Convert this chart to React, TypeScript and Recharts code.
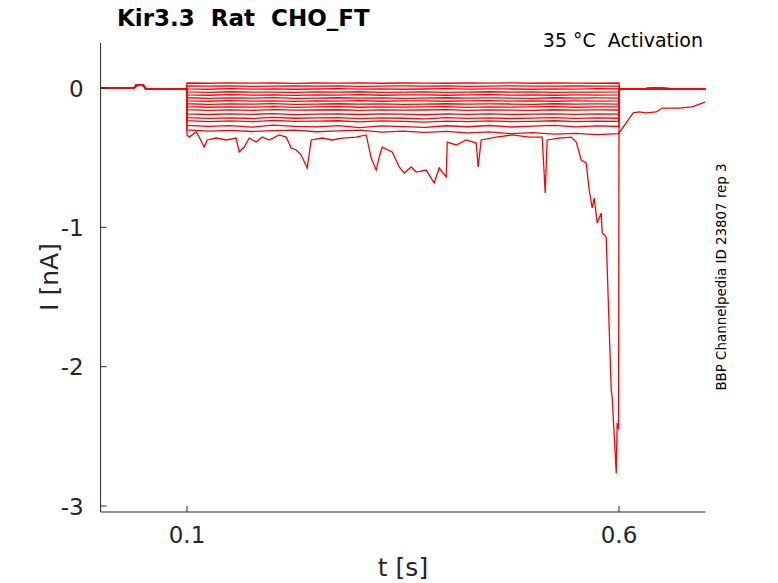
import { Line, LineChart, XAxis, YAxis } from "recharts";

const AXIS = "#262626";
const TRACE = "#ff0000";
const FONT = "DejaVu Sans";

// holding segment before the step, shared by all sweeps
const preTimes = [0, 0.02, 0.039, 0.041, 0.045, 0.049, 0.0505, 0.052, 0.075, 0.0995];
const preCurrent = [0, -0.002, -0.001, 0.018, 0.02, 0.019, 0.012, -0.006, -0.007, -0.004];

// step segment
const stepTimes = [
  0.1, 0.125, 0.15, 0.175, 0.2, 0.225, 0.25, 0.275, 0.3, 0.325, 0.35,
  0.375, 0.4, 0.425, 0.45, 0.475, 0.5, 0.525, 0.55, 0.575, 0.6,
];
const sweep01 = [0.036, 0.034, 0.037, 0.035, 0.036, 0.033, 0.036, 0.035, 0.037, 0.034, 0.036, 0.035, 0.034, 0.036, 0.035, 0.037, 0.034, 0.036, 0.035, 0.034, 0.036];
const sweep02 = [0.015, 0.013, 0.016, 0.012, 0.014, 0.016, 0.013, 0.015, 0.012, 0.014, 0.015, 0.013, 0.016, 0.012, 0.014, 0.015, 0.013, 0.014, 0.016, 0.013, 0.014];
const sweep03 = [-0.006, -0.009, -0.005, -0.008, -0.006, -0.009, -0.007, -0.005, -0.008, -0.006, -0.009, -0.007, -0.005, -0.008, -0.006, -0.007, -0.009, -0.006, -0.008, -0.005, -0.007];
const sweep04 = [-0.028, -0.031, -0.027, -0.03, -0.029, -0.032, -0.028, -0.03, -0.027, -0.031, -0.029, -0.028, -0.031, -0.029, -0.027, -0.03, -0.028, -0.031, -0.029, -0.03, -0.028];
const sweep05 = [-0.049, -0.052, -0.048, -0.051, -0.05, -0.053, -0.049, -0.051, -0.048, -0.052, -0.05, -0.049, -0.052, -0.05, -0.048, -0.051, -0.049, -0.052, -0.05, -0.051, -0.049];
const sweep06 = [-0.07, -0.074, -0.071, -0.073, -0.069, -0.074, -0.072, -0.07, -0.073, -0.071, -0.074, -0.072, -0.07, -0.073, -0.071, -0.072, -0.074, -0.07, -0.073, -0.071, -0.072];
const sweep07 = [-0.092, -0.095, -0.091, -0.094, -0.093, -0.096, -0.092, -0.094, -0.091, -0.095, -0.093, -0.092, -0.095, -0.093, -0.091, -0.094, -0.092, -0.095, -0.093, -0.094, -0.092];
const sweep08 = [-0.113, -0.117, -0.114, -0.116, -0.112, -0.117, -0.115, -0.113, -0.116, -0.114, -0.117, -0.115, -0.113, -0.116, -0.114, -0.115, -0.117, -0.113, -0.116, -0.114, -0.115];
const sweep09 = [-0.134, -0.138, -0.135, -0.137, -0.133, -0.139, -0.136, -0.134, -0.138, -0.135, -0.137, -0.136, -0.134, -0.139, -0.135, -0.137, -0.136, -0.134, -0.138, -0.135, -0.136];
const sweep10 = [-0.156, -0.16, -0.157, -0.161, -0.155, -0.159, -0.158, -0.156, -0.161, -0.157, -0.159, -0.158, -0.155, -0.16, -0.157, -0.159, -0.161, -0.156, -0.159, -0.157, -0.158];
const sweep11 = [-0.185, -0.19, -0.186, -0.189, -0.184, -0.191, -0.187, -0.185, -0.19, -0.186, -0.188, -0.192, -0.186, -0.189, -0.185, -0.19, -0.187, -0.185, -0.189, -0.186, -0.188];
const sweep12 = [-0.212, -0.218, -0.214, -0.219, -0.211, -0.217, -0.215, -0.212, -0.22, -0.214, -0.217, -0.221, -0.213, -0.218, -0.214, -0.219, -0.216, -0.212, -0.218, -0.215, -0.217];
const sweep13 = [-0.234, -0.241, -0.236, -0.242, -0.233, -0.24, -0.238, -0.235, -0.243, -0.236, -0.24, -0.245, -0.237, -0.241, -0.236, -0.242, -0.239, -0.235, -0.241, -0.238, -0.24];
const sweep14 = [-0.268, -0.276, -0.27, -0.281, -0.266, -0.275, -0.279, -0.27, -0.284, -0.272, -0.277, -0.283, -0.271, -0.278, -0.269, -0.28, -0.274, -0.268, -0.279, -0.272, -0.276];
const sweep15 = [-0.3, -0.31, -0.304, -0.312, -0.306, -0.302, -0.314, -0.308, -0.303, -0.316, -0.309, -0.318, -0.311, -0.322, -0.315, -0.328, -0.32, -0.331, -0.325, -0.334, -0.328];
const sweeps = [sweep01, sweep02, sweep03, sweep04, sweep05, sweep06, sweep07, sweep08, sweep09, sweep10, sweep11, sweep12, sweep13, sweep14, sweep15];

// tail after the step
const postTimes = [0.6005, 0.62, 0.64, 0.66, 0.68, 0.7];
const postCurrent = [-0.004, -0.006, -0.003, -0.005, -0.004, -0.006];

// the last, noisy sweep (step + tail)
const bigTimes = [
  0.1, 0.1026, 0.1106, 0.1141, 0.1199, 0.1234, 0.1338, 0.1454, 0.1569, 0.1604,
  0.1662, 0.172, 0.1801, 0.187, 0.1951, 0.2067, 0.2148, 0.2206, 0.2264, 0.2322,
  0.2391, 0.2438, 0.2565, 0.2681, 0.2796, 0.2958, 0.3074, 0.3132, 0.319, 0.3225,
  0.3259, 0.3375, 0.3456, 0.3514, 0.3595, 0.3653, 0.3769, 0.3861, 0.3919, 0.4,
  0.4012, 0.4116, 0.4231, 0.4347, 0.437, 0.4405, 0.4579, 0.4764, 0.4961, 0.5111,
  0.5146, 0.5169, 0.5308, 0.5447, 0.5505, 0.5563, 0.562, 0.5655, 0.569, 0.5713,
  0.5748, 0.5794, 0.5806, 0.5852, 0.5887, 0.591, 0.5921, 0.5968, 0.5979, 0.5995,
  0.6, 0.6083, 0.6164, 0.6234, 0.6315, 0.6431, 0.65, 0.6697, 0.6847, 0.6963, 0.7,
];
const bigCurrent = [
  -0.337, -0.352, -0.316, -0.352, -0.424, -0.373, -0.359, -0.373, -0.359, -0.459,
  -0.424, -0.359, -0.388, -0.352, -0.373, -0.337, -0.352, -0.431, -0.445, -0.481,
  -0.574, -0.373, -0.359, -0.373, -0.359, -0.352, -0.337, -0.503, -0.589, -0.495,
  -0.424, -0.459, -0.567, -0.61, -0.567, -0.603, -0.589, -0.682, -0.574, -0.639,
  -0.388, -0.409, -0.373, -0.395, -0.567, -0.373, -0.352, -0.337, -0.352, -0.352,
  -0.754, -0.373, -0.359, -0.352, -0.388, -0.517, -0.538, -0.732, -0.861, -0.79,
  -0.969, -0.897, -1.041, -1.07, -1.737, -2.168, -2.218, -2.764, -2.405, -2.45,
  -0.323, -0.251, -0.179, -0.172, -0.179, -0.172, -0.144, -0.144, -0.136, -0.108, -0.1,
];

const xTicks = [0.1, 0.6];
const yTicks = [-3, -2, -1, 0];

const toPoints = (ts: number[], vs: number[]) => ts.map((t, i) => ({ t, v: vs[i] }));
const prePoints = toPoints(preTimes, preCurrent);
const postPoints = toPoints(postTimes, postCurrent);
const sweepData = sweeps.map((s) => [...prePoints, ...toPoints(stepTimes, s), ...postPoints]);
const bigData = [...prePoints, ...toPoints(bigTimes, bigCurrent)];

const XTick = ({ x, y, payload }: any) => (
  <g>
    <line x1={x} y1={y} x2={x} y2={y - 6} stroke={AXIS} />
    <text x={x} y={y + 31} textAnchor="middle" fontSize={23} fontFamily={FONT} fill={AXIS}>
      {payload.value}
    </text>
  </g>
);

const YTick = ({ x, y, payload }: any) => (
  <g>
    <line x1={x} y1={y} x2={x + 6} y2={y} stroke={AXIS} />
    <text x={x - 17} y={y + 8.5} textAnchor="end" fontSize={23} fontFamily={FONT} fill={AXIS}>
      {payload.value}
    </text>
  </g>
);

export default function App() {
  return (
    <div style={{ position: "absolute", left: 0, top: 0, width: 778, height: 583, background: "#fff" }}>
      <LineChart width={778} height={583} margin={{ top: 43, right: 72.6, bottom: 31, left: 40.6 }}>
        <XAxis
          dataKey="t"
          type="number"
          domain={[0, 0.7]}
          ticks={xTicks}
          allowDataOverflow
          height={40}
          tickSize={0}
          tickMargin={0}
          tickLine={false}
          axisLine={{ stroke: AXIS }}
          tick={<XTick />}
        />
        <YAxis
          dataKey="v"
          type="number"
          domain={[-3.043, 0.323]}
          ticks={yTicks}
          allowDataOverflow
          width={60}
          tickSize={0}
          tickMargin={0}
          tickLine={false}
          axisLine={{ stroke: AXIS }}
          tick={<YTick />}
        />
        {sweepData.map((d, i) => (
          <Line
            key={i}
            data={d}
            dataKey="v"
            type="linear"
            stroke={TRACE}
            strokeWidth={1.3}
            dot={false}
            activeDot={false}
            isAnimationActive={false}
          />
        ))}
        <Line
          data={bigData}
          dataKey="v"
          type="linear"
          stroke={TRACE}
          strokeWidth={1.3}
          dot={false}
          activeDot={false}
          isAnimationActive={false}
        />
      </LineChart>
      <svg
        width={778}
        height={583}
        style={{ position: "absolute", left: 0, top: 0, pointerEvents: "none" }}
        fontFamily={FONT}
      >
        <text x={117} y={26} fontSize={23} fontWeight="bold" fill="#000" style={{ whiteSpace: "pre" }}>
          Kir3.3  Rat  CHO_FT
        </text>
        <text x={703} y={47} fontSize={19} textAnchor="end" fill="#000" style={{ whiteSpace: "pre" }}>
          35 °C  Activation
        </text>
        <text x={403} y={576} fontSize={25} textAnchor="middle" fill={AXIS}>
          t [s]
        </text>
        <text transform="translate(58,277) rotate(-90)" fontSize={25} textAnchor="middle" fill={AXIS}>
          I [nA]
        </text>
        <text transform="translate(726,277) rotate(-90)" fontSize={13.4} textAnchor="middle" fill="#000">
          BBP Channelpedia ID 23807 rep 3
        </text>
      </svg>
    </div>
  );
}
